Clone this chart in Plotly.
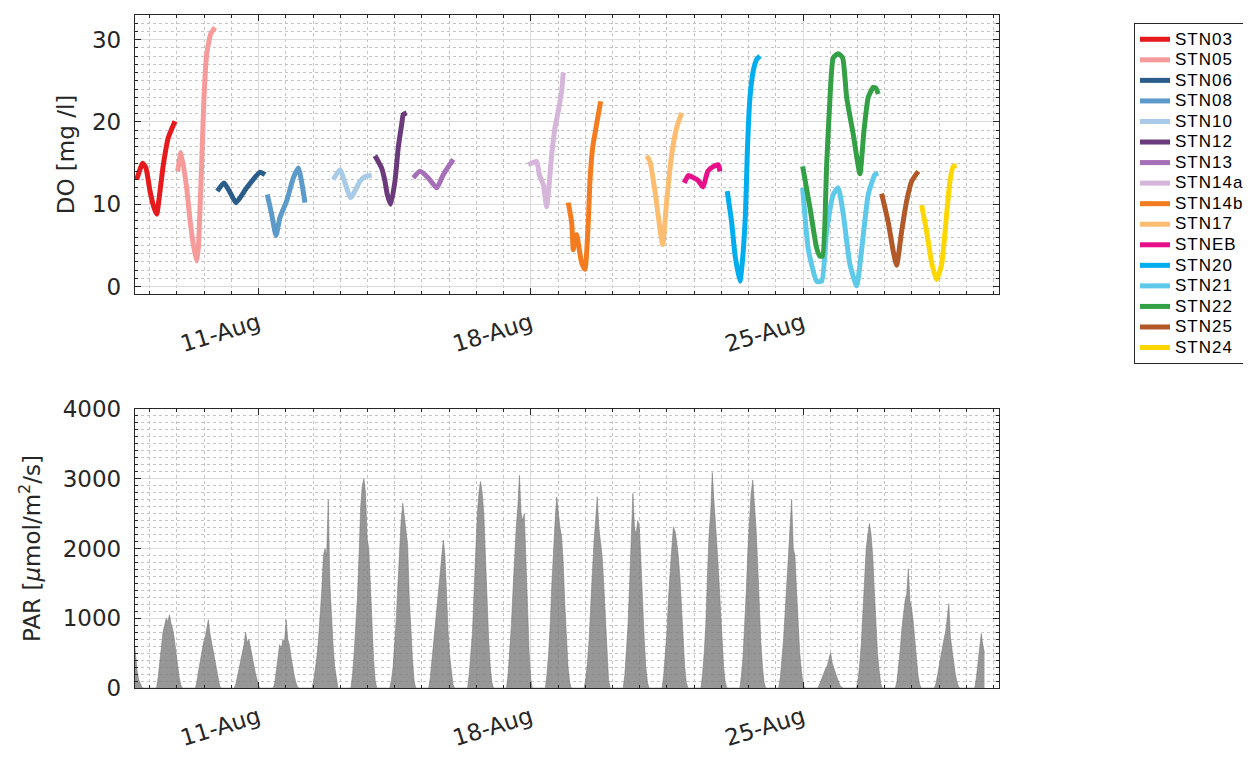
import numpy as np
import pandas as pd
import plotly.graph_objects as go
from plotly.subplots import make_subplots

# ---------------- DATA ----------------
# Station names (legend order)
stations = ["STN03", "STN05", "STN06", "STN08", "STN10", "STN12", "STN13", "STN14a",
            "STN14b", "STN17", "STNEB", "STN20", "STN21", "STN22", "STN25", "STN24"]

# Sample times as fractional day of August, DO values in mg/l
do_days = [
    [7.865, 8.019, 8.105, 8.208, 8.31, 8.379, 8.465, 8.55, 8.678, 8.85],
    [8.919, 9.005, 9.150, 9.236, 9.322, 9.408, 9.450, 9.536, 9.596, 9.665, 9.768, 9.879],
    [9.938, 10.110, 10.27, 10.419, 10.694, 11.036, 11.165],
    [11.224, 11.336, 11.447, 11.550, 11.722, 11.893, 12.022, 12.193],
    [12.921, 13.093, 13.368, 13.607, 13.75, 13.908],
    [13.993, 14.165, 14.250, 14.309, 14.397, 14.507, 14.592, 14.680, 14.721, 14.808],
    [14.978, 15.150, 15.364, 15.580, 15.749, 16.006],
    [17.935, 18.151, 18.218, 18.321, 18.408, 18.537, 18.622, 18.706, 18.794, 18.835],
    [18.963, 19.051, 19.092, 19.135, 19.179, 19.246, 19.308, 19.393, 19.478, 19.521, 19.591, 19.676, 19.797],
    [20.979, 21.064, 21.193, 21.391, 21.494, 21.622, 21.751, 21.879],
    [21.946, 22.05, 22.16, 22.30, 22.43, 22.55, 22.70, 22.82, 22.864],
    [23.052, 23.165, 23.250, 23.379, 23.44, 23.52, 23.566, 23.636, 23.72, 23.808, 23.893],
    [24.991, 25.137, 25.351, 25.480, 25.608, 25.778, 25.906, 26.035, 26.207, 26.380, 26.508, 26.678, 26.850, 26.935],
    [24.991, 25.178, 25.35, 25.436, 25.50, 25.608, 25.694, 25.778, 25.906, 26.019, 26.122, 26.292, 26.464, 26.567, 26.678, 26.807, 26.876, 26.935],
    [27.022, 27.192, 27.320, 27.408, 27.536, 27.665, 27.794, 27.963],
    [28.050, 28.179, 28.308, 28.436, 28.565, 28.693, 28.778, 28.863, 28.950],
]
do_vals = [
    [13.0, 15.0, 14.4, 11.6, 9.6, 8.8, 11.6, 14.8, 18.1, 20.1],
    [14.0, 16.3, 12.0, 8.1, 5.1, 3.1, 4.7, 14.8, 23.0, 28.2, 30.7, 31.5],
    [11.6, 12.6, 11.4, 10.2, 12.0, 13.9, 13.6],
    [11.2, 8.8, 6.2, 8.4, 10.4, 13.2, 14.4, 10.2],
    [13.0, 14.2, 10.8, 12.8, 13.4, 13.5],
    [15.9, 14.4, 12.8, 11.2, 10.0, 12.8, 16.9, 19.7, 20.9, 21.1],
    [13.2, 14.0, 13.2, 12.0, 13.6, 15.45],
    [14.8, 15.2, 13.6, 12.4, 9.7, 16.0, 19.3, 21.3, 23.8, 26.0],
    [10.2, 7.8, 4.5, 6.0, 6.3, 4.5, 2.9, 2.1, 7.8, 12.8, 16.9, 19.3, 22.5],
    [15.9, 15.2, 11.6, 5.1, 10.4, 16.0, 19.3, 21.1],
    [12.6, 13.5, 13.3, 12.9, 12.1, 14.0, 14.6, 14.8, 14.0],
    [11.6, 7.8, 3.9, 0.65, 3.0, 8.8, 16.1, 23.0, 26.2, 27.6, 28.0],
    [12.0, 4.5, 0.65, 0.65, 6.7, 11.2, 12.0, 8.8, 2.7, 0.1, 4.5, 11.2, 13.6, 13.8],
    [14.6, 9.6, 4.7, 3.7, 3.7, 14.8, 23.0, 27.8, 28.3, 27.8, 23.0, 18.5, 13.7, 18.9, 23.0, 24.2, 24.1, 23.4],
    [11.3, 7.8, 4.3, 2.6, 6.7, 10.4, 12.8, 14.0],
    [9.9, 6.7, 2.9, 0.85, 2.7, 8.8, 12.8, 14.6, 14.7],
]

# PAR: hourly values per day (August day, first hour of the list), umol/m2/s
par_day = list(range(7, 30))
par_hour0 = [19] + [9] * 22
par_vals = [
    [750, 480, 250, 120, 50, 10, 0],
    [0, 150, 350, 600, 800, 900, 1000, 950, 1050, 920, 850, 700, 500, 300, 150, 40, 0],
    [0, 100, 250, 400, 550, 650, 720, 880, 980, 780, 650, 500, 380, 250, 120, 30, 0],
    [0, 60, 150, 280, 400, 520, 620, 800, 650, 700, 560, 450, 340, 220, 110, 30, 0],
    [0, 80, 250, 450, 620, 560, 700, 660, 980, 700, 620, 450, 300, 180, 80, 20, 0],
    [0, 100, 250, 450, 700, 1000, 1400, 1900, 2000, 1900, 2700, 1500, 1000, 600, 300, 120, 0],
    [0, 200, 500, 900, 1300, 1900, 2600, 2900, 3000, 2800, 2150, 2000, 1400, 900, 400, 100, 0],
    [0, 120, 300, 600, 1000, 1500, 2000, 2400, 2650, 2450, 2300, 2050, 1300, 800, 400, 100, 0],
    [0, 150, 400, 650, 900, 1150, 1400, 1650, 1900, 2120, 1900, 1300, 800, 450, 200, 50, 0],
    [0, 200, 450, 800, 1400, 2000, 2500, 2800, 2960, 2800, 2500, 1900, 1200, 700, 300, 80, 0],
    [0, 200, 500, 900, 1400, 1900, 2300, 2600, 3050, 2500, 2400, 2500, 1800, 1100, 500, 120, 0],
    [0, 200, 500, 900, 1500, 2000, 2400, 2740, 2500, 2300, 2170, 1800, 1200, 700, 300, 80, 0],
    [0, 150, 380, 700, 1200, 1700, 2100, 2400, 2740, 2300, 2100, 1900, 1500, 1000, 500, 120, 0],
    [0, 180, 500, 900, 1500, 2100, 2790, 2300, 2200, 2400, 2300, 1800, 1200, 700, 300, 80, 0],
    [0, 180, 450, 800, 1300, 1750, 2000, 2310, 2250, 2100, 1900, 1600, 1100, 650, 300, 80, 0],
    [0, 200, 500, 900, 1600, 2200, 2500, 3090, 2700, 2400, 2000, 1600, 1100, 650, 300, 80, 0],
    [0, 180, 450, 850, 1400, 2000, 2500, 2800, 2980, 2700, 2300, 1800, 1200, 650, 300, 80, 0],
    [0, 150, 400, 700, 1100, 1500, 2000, 2300, 2700, 2000, 1900, 1400, 900, 500, 250, 60, 0],
    [0, 40, 100, 160, 230, 280, 320, 400, 510, 360, 300, 220, 150, 80, 30, 10, 0],
    [0, 120, 350, 650, 1100, 1550, 2000, 2200, 2360, 2200, 1900, 1400, 900, 500, 250, 60, 0],
    [0, 100, 300, 550, 850, 1100, 1250, 1350, 1710, 1250, 1150, 950, 650, 400, 180, 50, 0],
    [0, 60, 180, 320, 450, 580, 700, 800, 1000, 1210, 720, 520, 350, 200, 90, 20, 0],
    [0, 0, 150, 350, 550, 780, 620, 500],
]

x_tick_days = [11, 18, 25]
x_tick_labels = ["11-Aug", "18-Aug", "25-Aug"]

# ---------------- STYLE ----------------
colors = ["#e41a1c", "#f69a9a", "#2b5d8b", "#5b9ac9", "#a9cbe8", "#6a3a7b", "#a670b8", "#d6b5db",
          "#f47c20", "#fdbd71", "#e8108a", "#00aeef", "#5ec9e8", "#34a046", "#b15928", "#ffd700"]

base = pd.Timestamp("2015-08-01")


def to_time(days):
    return base + pd.to_timedelta(np.asarray(days, dtype=float) - 1.0, unit="D")


fig = make_subplots(rows=2, cols=1)

for name, d, v, c in zip(stations, do_days, do_vals, colors):
    fig.add_trace(go.Scatter(
        x=to_time(d), y=v, mode="lines",
        name='<span style="font-size:17px;letter-spacing:1px">' + name + '</span>',
        line=dict(color=c, width=5, shape="spline", smoothing=0.5)), row=1, col=1)

par_x, par_y = [], []
for day, h0, vals in zip(par_day, par_hour0, par_vals):
    hrs = np.arange(len(vals)) + h0
    par_x.extend(list(to_time(day + hrs / 24.0)))
    par_y.extend(vals)

fig.add_trace(go.Scatter(x=par_x, y=par_y, mode="lines", fill="tozeroy",
                         line=dict(color="rgba(120,120,120,0.9)", width=0.6),
                         fillcolor="rgba(128,128,128,0.82)", showlegend=False),
              row=2, col=1)

DAY_MS = 86400000
xr = [to_time([7.822])[0], to_time([30.04])[0]]
axis_font = dict(family="DejaVu Sans", size=23, color="#262626")

xcommon = dict(type="date", range=xr, tickmode="array",
               tickvals=list(to_time(x_tick_days)), ticktext=x_tick_labels,
               tickangle=-17, ticks="inside", ticklen=6, tickcolor="#262626",
               showline=True, linecolor="#262626", linewidth=1.3, mirror="ticks",
               showgrid=True, gridcolor="#dcdcdc", gridwidth=1, zeroline=False,
               tickfont=axis_font, ticklabelstandoff=6, automargin=False,
               minor=dict(tickmode="linear", tick0=to_time([11])[0], dtick=0.7 * DAY_MS,
                          showgrid=True, gridcolor="#c4c4c4", griddash="dot", gridwidth=1,
                          ticks="inside", ticklen=3, tickcolor="#262626"))

fig.update_xaxes(**xcommon, row=1, col=1)
fig.update_xaxes(**xcommon, row=2, col=1)

ycommon = dict(ticks="inside", ticklen=6, tickcolor="#262626", showline=True,
               linecolor="#262626", linewidth=1.3, mirror="ticks", showgrid=True,
               gridcolor="#dcdcdc", gridwidth=1, zeroline=False, tickfont=axis_font,
               ticklabelstandoff=8, automargin=False)

fig.update_yaxes(**ycommon, range=[-0.9, 33], tickmode="linear", tick0=0, dtick=10,
                 minor=dict(tickmode="linear", tick0=0, dtick=1, showgrid=True,
                            gridcolor="#c4c4c4", griddash="dot", gridwidth=1,
                            ticks="inside", ticklen=3, tickcolor="#262626"),
                 title=dict(text="DO [mg /l]", font=dict(family="DejaVu Sans", size=23, color="#262626"),
                            standoff=10),
                 row=1, col=1)
fig.update_yaxes(**ycommon, range=[0, 4000], tickmode="linear", tick0=0, dtick=1000,
                 minor=dict(tickmode="linear", tick0=0, dtick=100, showgrid=True,
                            gridcolor="#c4c4c4", griddash="dot", gridwidth=1,
                            ticks="inside", ticklen=3, tickcolor="#262626"),
                 title=dict(text="PAR [<i>μ</i>mol/m<sup>2</sup>/s]",
                            font=dict(family="DejaVu Sans", size=23, color="#262626"),
                            standoff=15),
                 row=2, col=1)

# page body has an 8px margin: plot area at screen x 135..999, y 15..688
FW, FH = 1240, 745
ML, MT = 127, 7
W, H = 864, 673
fig.update_layout(
    width=FW, height=FH,
    margin=dict(l=ML, r=FW - ML - W, t=MT, b=FH - MT - H, autoexpand=False),
    paper_bgcolor="white", plot_bgcolor="white",
    xaxis=dict(domain=[0, 1]), xaxis2=dict(domain=[0, 1]),
    yaxis=dict(domain=[(688 - 294) / H, 1.0]),
    yaxis2=dict(domain=[0, 279 / H]),
    legend=dict(x=(1134 - 135) / W, y=1 - 8 / H, xanchor="left", yanchor="top",
                bordercolor="#262626", borderwidth=1, bgcolor="white",
                font=dict(family="Liberation Sans", size=13.5, color="#000000"),
                itemwidth=30, tracegroupgap=0),
    showlegend=True,
)

fig.write_html("out.html")
